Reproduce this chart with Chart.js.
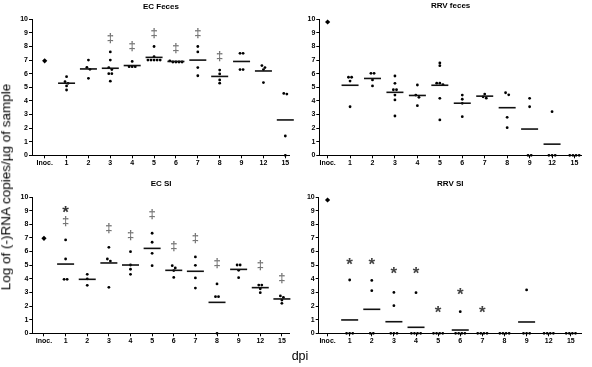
<!DOCTYPE html>
<html><head><meta charset="utf-8">
<script src="https://cdn.jsdelivr.net/npm/chart.js@4"></script>
<style>
body{margin:0;background:#fff;}
#wrap{position:relative;width:592px;height:367px;overflow:hidden;background:#fff;font-family:'Liberation Sans',Arial,sans-serif;}
canvas{position:absolute;}
.lab{position:absolute;white-space:nowrap;color:#000;z-index:2;line-height:1;}
</style></head><body>
<div id="wrap">
<canvas id="c1" width="300" height="172" style="left:0;top:0"></canvas>
<canvas id="c2" width="292" height="172" style="left:300px;top:0"></canvas>
<canvas id="c3" width="300" height="185" style="left:0;top:172px"></canvas>
<canvas id="c4" width="292" height="185" style="left:300px;top:172px"></canvas>
<div class="lab" style="left:6px;top:187px;font-size:13.5px;transform:translate(-50%,-50%) rotate(-90deg)">Log of (-)RNA copies/µg of sample</div>
<div class="lab" style="left:300px;top:356px;font-size:12.5px;transform:translate(-50%,-50%)">dpi</div>
</div>
<script>
const categories = ['Inoc.','1','2','3','4','5','6','7','8','9','12','15'];
const yTicks = [0,1,2,3,4,5,6,7,8,9,10];

const ecFecesValues = [
  [6.95],
  [5.78,5.41,5.29,5.1,4.8],
  [7.0,6.47,6.32,5.66],
  [7.6,7.0,6.45,6.3,6.0,6.0,5.45],
  [6.9,6.52,6.52,6.52],
  [8.0,7.25,7.0,7.0,7.0,7.0,7.0],
  [6.95,6.86,6.86,6.86,6.86],
  [8.0,7.6,6.45,5.85],
  [6.27,5.98,5.54,5.3],
  [7.5,7.5,6.3,6.3],
  [6.6,6.45,6.3,5.35],
  [4.55,4.5,1.42,0]
];
const ecFecesMedians = [null,5.3,6.35,6.4,6.6,7.2,6.9,7.0,5.8,6.9,6.2,2.6];
const ecFecesDaggers = [null,null,null,8.6,8.0,8.97,7.84,8.95,7.3,null,null,null];

const rrvFecesValues = [
  [9.8],
  [5.74,5.74,5.46,3.57],
  [6.03,6.03,5.54,5.1],
  [5.83,5.29,4.82,4.82,4.43,4.07,2.89],
  [5.17,4.43,4.26,3.65],
  [6.79,6.59,5.3,5.3,5.2,4.19,2.6],
  [4.43,4.12,3.82,2.84],
  [4.5,4.3,4.2],
  [4.6,4.45,2.79,2.03],
  [4.19,3.57,0,0],
  [3.21,0,0,0],
  [0,0,0,0]
];
const rrvFecesMedians = [null,5.15,5.65,4.63,4.4,5.15,3.83,4.35,3.5,1.93,0.82,null];

const ecSIValues = [
  [6.97],
  [6.85,5.45,3.96,3.96],
  [4.33,4.0,3.52],
  [6.31,5.45,5.3,3.37],
  [5.99,5.01,4.7,4.33],
  [7.34,6.68,5.87,4.96],
  [4.96,4.79,4.6,4.1],
  [5.6,4.99,4.06,3.32],
  [3.62,2.69,2.69,0],
  [5.01,5.01,4.62,4.08],
  [3.54,3.54,3.27,2.98],
  [2.74,2.64,2.44,2.2]
];
const ecSIMedians = [null,5.08,3.96,5.16,5.01,6.23,4.62,4.55,2.27,4.69,3.35,2.52];
const ecSIDaggers = [null,8.19,null,7.7,7.21,8.68,6.35,6.97,5.13,null,5.0,4.03];
const ecSIStars = [null,9.05,null,null,null,null,null,null,null,null,null,null];

const rrvSIValues = [
  [9.78],
  [3.91,0,0,0],
  [3.88,3.13,0,0],
  [3.0,2.03,0,0,0],
  [2.98,0,0,0,0],
  [0,0,0,0],
  [1.59,0,0,0,0],
  [0,0,0,0],
  [0,0,0,0],
  [3.18,0,0,0],
  [0,0,0,0],
  [0,0,0,0]
];
const rrvSIMedians = [null,0.98,1.76,0.85,0.44,null,0.24,null,null,0.83,null,null];
const rrvSIStars = [null,5.25,5.3,4.62,4.62,1.71,3.1,1.78,null,null,null,null];

const FONT = "'Liberation Sans', Arial, sans-serif";

// spread points that share (nearly) the same value side by side
function swarm(values){
  const pts = [];
  values.forEach((vals, i) => {
    const s = vals.slice().sort((a,b)=>b-a);
    let k = 0;
    while (k < s.length){
      let j = k;
      while (j + 1 < s.length && s[k] - s[j+1] < 0.2) j++;
      const n = j - k + 1;
      for (let m = 0; m < n; m++){
        pts.push({x: i + (m - (n-1)/2) * 0.14, y: s[k+m]});
      }
      k = j + 1;
    }
  });
  return pts;
}

function toPoints(arr){
  return arr.map((v,i)=> v==null ? null : {x:i, y:v}).filter(p=>p);
}

function marks(arr, sym, font, color){
  return arr.map((v,i)=> v==null ? null : {i, v, t:sym, font, color}).filter(m=>m);
}

const markPlugin = {
  id: 'marks',
  afterDatasetsDraw(chart, args, opts){
    const {ctx} = chart;
    const x = chart.scales.x, y = chart.scales.y;
    ctx.save();
    (opts.items || []).forEach(m => {
      ctx.font = m.font;
      ctx.fillStyle = m.color;
      ctx.textAlign = 'center';
      ctx.textBaseline = 'alphabetic';
      const mt = ctx.measureText(m.t);
      const off = (mt.actualBoundingBoxAscent - mt.actualBoundingBoxDescent) / 2;
      ctx.fillText(m.t, x.getPixelForValue(m.i), y.getPixelForValue(m.v) + off);
    });
    ctx.restore();
  }
};
Chart.register(markPlugin);

function makeChart(id, title, values, medians, items, g){
  const tickFont = {family: FONT, size: 7, weight: 'bold'};
  return new Chart(document.getElementById(id), {
    type: 'scatter',
    data: {
      datasets: [
        {
          data: toPoints(medians),
          pointStyle: 'line',
          pointRadius: 8.5,
          borderColor: '#111',
          backgroundColor: '#111',
          pointBorderWidth: 1.6,
          clip: false,
          order: 0
        },
        {
          data: swarm(values),
          pointStyle: c => (c.raw && c.raw.x === 0) ? 'rectRot' : 'circle',
          pointRadius: c => (c.raw && c.raw.x === 0) ? 2.6 : 1.4,
          backgroundColor: '#000',
          borderColor: '#000',
          pointBorderWidth: 0,
          clip: false,
          order: 1
        }
      ]
    },
    options: {
      responsive: false,
      animation: false,
      events: [],
      layout: {padding: {left: 0, top: 0, bottom: 0, right: g.padR}},
      plugins: {
        legend: {display: false},
        tooltip: {enabled: false},
        title: {
          display: true, text: title, fullSize: false, color: '#000',
          font: {family: FONT, size: 8, weight: 'bold'},
          padding: {top: g.tTop, bottom: g.tBot}
        },
        marks: {items}
      },
      scales: {
        x: {
          type: 'linear', min: g.xmin, max: g.xmax,
          afterBuildTicks: s => { s.ticks = categories.map((c,i)=>({value:i})); },
          afterFit: s => { s.height = g.xH; },
          grid: {drawOnChartArea: false, drawTicks: true, tickLength: 3, color: '#000', lineWidth: 1},
          border: {display: true, color: '#000', width: 1},
          ticks: {
            autoSkip: false, maxRotation: 0, padding: 1, color: '#000', font: tickFont,
            callback: v => { const k = Math.round(v); return Math.abs(v-k) < 1e-6 ? categories[k] : ''; }
          }
        },
        y: {
          type: 'linear', min: yTicks[0], max: yTicks[yTicks.length-1],
          afterBuildTicks: s => { s.ticks = yTicks.map(v=>({value:v})); },
          afterFit: s => { s.width = g.yW; },
          grid: {drawOnChartArea: false, drawTicks: true, tickLength: 3, color: '#000', lineWidth: 1},
          border: {display: true, color: '#000', width: 1},
          ticks: {padding: 1, color: '#000', font: tickFont}
        }
      }
    }
  });
}

const dagFont = "bold 13px " + FONT;
const starFont = "bold 17px " + FONT;

makeChart('c1', 'EC Feces', ecFecesValues, ecFecesMedians,
  marks(ecFecesDaggers, '‡', dagFont, '#777'),
  {xmin: -0.58, xmax: 11.21, yW: 32, xH: 16.7, padR: 5, tTop: 2.2, tBot: 7.5});

makeChart('c2', 'RRV feces', rrvFecesValues, rrvFecesMedians, [],
  {xmin: -0.37, xmax: 11.33, yW: 19.3, xH: 16.7, padR: 10, tTop: 1.2, tBot: 8.5});

makeChart('c3', 'EC SI', ecSIValues, ecSIMedians,
  marks(ecSIDaggers, '‡', dagFont, '#777').concat(marks(ecSIStars, '*', starFont, '#333')),
  {xmin: -0.54, xmax: 11.37, yW: 32.3, xH: 23.7, padR: 3, tTop: 7.2, tBot: 8.2});

makeChart('c4', 'RRV SI', rrvSIValues, rrvSIMedians,
  marks(rrvSIStars, '*', starFont, '#444'),
  {xmin: -0.4, xmax: 11.5, yW: 18.7, xH: 23.7, padR: 7, tTop: 7.2, tBot: 8.2});
</script>
</body></html>
